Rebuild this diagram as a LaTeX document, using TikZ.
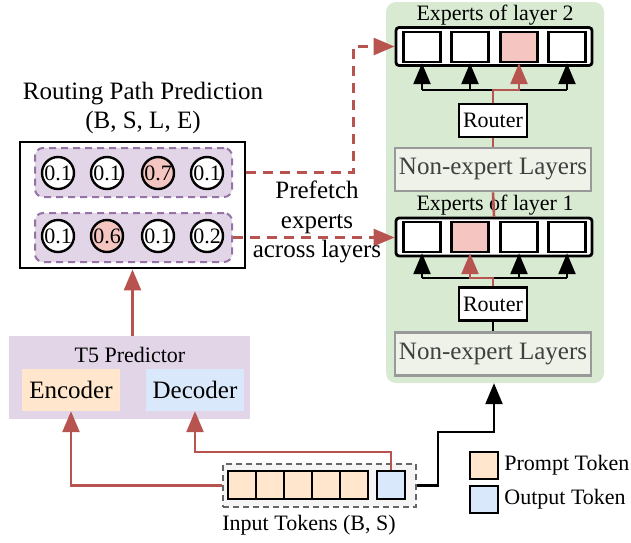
\documentclass[tikz,border=0pt]{standalone}
\usepackage{fontspec}
\setmainfont{Liberation Serif}
\usetikzlibrary{positioning, arrows.meta, calc}
\definecolor{panelgreen}{HTML}{D9EAD3}
\definecolor{layerfill}{HTML}{EEF2E9}
\definecolor{layerdraw}{HTML}{999999}
\definecolor{hotpink}{HTML}{F4C5C1}
\definecolor{linkred}{HTML}{B85450}
\definecolor{predpurple}{HTML}{E1D5E7}
\definecolor{rowpurple}{HTML}{9673A6}
\definecolor{promptorange}{HTML}{FFE6CC}
\definecolor{outblue}{HTML}{DAE8FC}

\begin{document}
\begin{tikzpicture}[
  x=1pt, y=-1pt,
  >={Triangle[length=21pt,width=17pt]},
  big/.style={font=\fontsize{25}{29.5}\selectfont},
  small/.style={font=\fontsize{22}{26}\selectfont},
  expert/.style={draw, line width=2.4pt, minimum width=37pt, minimum height=30pt, inner sep=0pt},
  layerbox/.style={draw, line width=2.8pt, rounded corners=3pt, fill=white, minimum width=196pt, minimum height=38pt},
  routerbox/.style={draw, line width=2.5pt, fill=white, small, minimum width=68pt, minimum height=33pt, inner sep=0pt},
  nonexp/.style={draw=layerdraw, line width=2.8pt, fill=layerfill, text=black!75, big, minimum width=196pt, minimum height=43pt, inner sep=0pt},
  rowbox/.style={draw=rowpurple, dashed, dash pattern=on 7pt off 5pt, line width=2pt, fill=predpurple, rounded corners=8pt, minimum width=197pt, minimum height=49pt},
  prob/.style={circle, draw, line width=2.4pt, minimum size=32pt, inner sep=0pt, small},
  token/.style={draw, line width=2.4pt, minimum width=28pt, minimum height=28pt, inner sep=0pt},
  redline/.style={draw=linkred, line width=2.6pt},
  blkline/.style={draw=black, line width=2.4pt}
]
\useasboundingbox (0,0) rectangle (631,542);

% Right panel: the MoE model
\node[fill=panelgreen, rounded corners=10pt, minimum width=218pt, minimum height=381pt] (panel) at (495,192.5) {};

% Layer 2
\node[small] (t2) at (495,15) {Experts of layer 2};
\node[layerbox] (layer2) at (494,46.5) {};
\foreach \i/\x/\c in {1/422/white, 2/470/white, 3/519/hotpink, 4/567/white}
  \node[expert, fill=\c] (e2\i) at (\x,47) {};
\node[routerbox] (router2) at (493,120.5) {Router};
\node[nonexp] (nonexp2) at (493,169.5) {Non-expert Layers};
\coordinate (bus2) at (493,90);
\draw[blkline] (e21.south |- bus2) -- (e24.south |- bus2);
\foreach \i in {1,2,4}
  \draw[blkline, ->] (e2\i.south |- bus2) -- (e2\i.south);
\draw[redline, ->] (router2.north) -- (bus2) -| (e23.south);
\draw[redline] (router2.south) -- (nonexp2.north);

% Layer 1
\node[small] (t1) at (495,205) {Experts of layer 1};
\node[layerbox] (layer1) at (494,237) {};
\foreach \i/\x/\c in {1/422/white, 2/470/hotpink, 3/519/white, 4/567/white}
  \node[expert, fill=\c] (e1\i) at (\x,237) {};
\node[routerbox] (router1) at (493,304) {Router};
\node[nonexp] (nonexp1) at (493,354) {Non-expert Layers};
\coordinate (bus1) at (493,278);
\draw[blkline] (e11.south |- bus1) -- (e14.south |- bus1);
\foreach \i in {1,3,4}
  \draw[blkline, ->] (e1\i.south |- bus1) -- (e1\i.south);
\draw[redline, ->] (router1.north) -- (bus1) -| (e12.south);
\draw[blkline] (router1.south) -- (nonexp1.north);
\draw[redline] (nonexp2.south) -- (layer1.north);

% Left: routing path prediction
\node[big, align=center] (rpp) at (143,108) {Routing Path Prediction\\(B, S, L, E)};
\node[draw, line width=2.8pt, minimum width=225pt, minimum height=126pt] (pred) at (132.5,205) {};
\node[rowbox] (row1) at (133.5,172.5) {};
\node[rowbox] (row2) at (133.5,237.5) {};
\foreach \i/\x/\p/\c in {1/58/0.1/white, 2/107/0.1/white, 3/158/0.7/hotpink, 4/207/0.1/white}
  \node[prob, fill=\c] (pa\i) at (\x,173) {\p};
\foreach \i/\x/\p/\c in {1/58/0.1/white, 2/107/0.6/hotpink, 3/158/0.1/white, 4/207/0.2/white}
  \node[prob, fill=\c] (pb\i) at (\x,236) {\p};

% Prefetch arrows
\draw[redline, dashed, dash pattern=on 10pt off 7pt, ->] (pred.east |- row1.east) -- ++(107,0) |- (layer2.west);
\draw[redline, dashed, dash pattern=on 10pt off 7pt, ->] (row2.east) -- (row2.east -| layer1.west);
\node[big, align=center] (pref) at (317,222) {Prefetch\\experts\\across layers};

% T5 predictor
\node[fill=predpurple, minimum width=241pt, minimum height=83pt] (t5) at (129.5,377.5) {};
\node[small] (t5lbl) at (130,355) {T5 Predictor};
\node[fill=promptorange, big, minimum width=98pt, minimum height=42pt, inner sep=0pt] (enc) at (71,390) {Encoder};
\node[fill=outblue, big, minimum width=98pt, minimum height=42pt, inner sep=0pt] (dec) at (195,390) {Decoder};
\draw[redline, ->] (pred.south |- t5.north) -- (pred.south);

% Input tokens
\node[draw=black!60, dashed, dash pattern=on 6pt off 4pt, line width=2.2pt, fill=black!4, minimum width=193pt, minimum height=43pt] (tokens) at (319.5,485.5) {};
\foreach \i/\x in {1/242, 2/270, 3/298, 4/326, 5/354}
  \node[token, fill=promptorange] (p\i) at (\x,485) {};
\node[token, fill=outblue] (o) at (391,485) {};
\node[small] (inlbl) at (309,525) {Input Tokens (B, S)};
\draw[redline, ->] (tokens.west) -| (enc.south);
\draw[redline, ->] (o.north) -- ++(0,-18) -| (dec.south);
\draw[blkline, ->] (tokens.east) -- ++(21,0) |- ($(panel.south)+(-1,49)$) -- ($(panel.south)+(-1,0)$);

% Legend
\node[token, fill=promptorange, minimum height=27pt] (lp) at (484,465.5) {};
\node[token, fill=outblue, minimum height=27pt] (lo) at (484,499.5) {};
\node[small, inner sep=1pt, right=4pt of lp] (lpl) {Prompt Token};
\node[small, inner sep=1pt, right=4pt of lo] (lol) {Output Token};

\end{tikzpicture}
\end{document}
